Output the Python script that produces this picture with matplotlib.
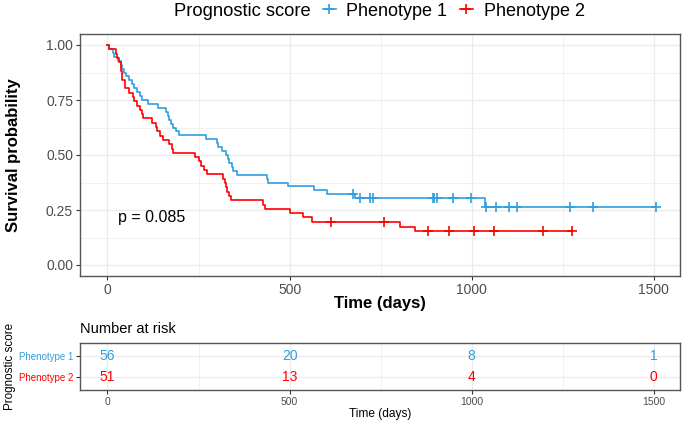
import numpy as np
import matplotlib
matplotlib.use('Agg')
import matplotlib.pyplot as plt
from matplotlib.lines import Line2D

plt.rcParams['font.family'] = ['Liberation Sans', 'DejaVu Sans']

# Kaplan-Meier steps (time in days, survival after the step)
blue_time = [0, 5, 14, 19, 30, 36, 41, 44, 52, 60, 68, 74, 80, 90, 96, 112, 140, 162,
             167, 170, 173, 181, 189, 195, 271, 302, 304, 315, 326, 332, 335, 343, 345,
             356, 437, 440, 497, 567, 604, 680, 1036]
blue_surv = [1.0, .982, .964, .946, .929, .911, .893, .875, .857, .839, .821, .804, .786,
             .768, .750, .732, .714, .696, .679, .661, .643, .625, .607, .589, .571, .554,
             .536, .518, .500, .482, .464, .446, .429, .411, .393, .375, .357, .339, .321,
             .303, .265]
blue_cens = [673, 694, 722, 730, 893, 897, 904, 950, 998, 1039, 1068, 1103, 1125, 1271,
             1333, 1505]

red_time = [0, 4, 24, 26, 31, 36, 37, 39, 40, 47, 49, 58, 70, 74, 80, 88, 96, 98, 122, 134,
            136, 145, 152, 170, 178, 180, 239, 252, 257, 266, 273, 318, 322, 326, 329, 333,
            338, 428, 432, 502, 537, 561, 803, 845]
red_surv = [1.0, .980, .961, .941, .922, .902, .882, .863, .843, .824, .804, .784, .765,
            .745, .725, .706, .686, .667, .647, .627, .608, .588, .569, .549, .529, .510,
            .490, .471, .451, .431, .412, .392, .373, .353, .333, .314, .294, .275, .255,
            .235, .216, .196, .174, .153]
red_cens = [614, 758, 880, 939, 1005, 1060, 1196, 1275]

groups = ['Phenotype 1', 'Phenotype 2']
colors = ['#2E9FDF', '#FF0000']

risk_times = [0, 500, 1000, 1500]
risk_p1 = [56, 20, 8, 1]
risk_p2 = [51, 13, 4, 0]

pval_text = 'p = 0.085'

GRID = '#EBEBEB'
BORDER = '#555555'
TICKLAB = '#4D4D4D'
XLIM = (-75.5, 1572)

W, H = 685, 425
fig = plt.figure(figsize=(W / 100, H / 100), dpi=100)

# ---- survival curves ----
ax = fig.add_axes([80 / W, 1 - 276 / H, 600 / W, 242 / H])
series = [(blue_time, blue_surv, blue_cens), (red_time, red_surv, red_cens)]
for (t, s, c), col in zip(series, colors):
    t = np.array(t, dtype=float)
    s = np.array(s)
    xs = np.append(t, max(c))
    ys = np.append(s, s[-1])
    ax.step(xs, ys, where='post', color=col, lw=1.2, zorder=3)
    idx = np.searchsorted(t, c, side='right') - 1
    ax.plot(c, s[idx], linestyle='none', marker='+', color=col, ms=7, mew=1.2, zorder=4)

ax.set_xlim(*XLIM)
ax.set_ylim(-0.05, 1.05)
ax.set_xticks([0, 500, 1000, 1500])
ax.set_xticks([250, 750, 1250], minor=True)
ax.set_yticks([0, 0.25, 0.5, 0.75, 1.0])
ax.set_yticklabels(['0.00', '0.25', '0.50', '0.75', '1.00'])
ax.set_yticks([0.125, 0.375, 0.625, 0.875], minor=True)
ax.grid(True, which='major', color=GRID, lw=0.9, zorder=0)
ax.grid(True, which='minor', color=GRID, lw=0.5, zorder=0)
ax.set_axisbelow(True)
ax.tick_params(which='major', length=3, color='#333333', labelcolor=TICKLAB,
               labelsize=10, pad=2)
ax.tick_params(which='minor', length=0)
for sp in ax.spines.values():
    sp.set_color(BORDER)
    sp.set_linewidth(1.0)
ax.set_xlabel('Time (days)', fontsize=12, fontweight='bold', labelpad=-1)
ax.set_ylabel('Survival probability', fontsize=12, fontweight='bold', labelpad=18)
ax.text(30, 0.215, pval_text, fontsize=11.5, va='center', ha='left')

# ---- legend on top ----
fig.text(311 / W, 1 - 11 / H, 'Prognostic score', fontsize=13.2, ha='right', va='center')
handles = [Line2D([], [], color=col, lw=1.2, marker='+', ms=7, mew=1.2) for col in colors]
fig.legend(handles, groups, loc='center left', bbox_to_anchor=(323 / W, 1 - 11 / H),
           ncol=2, frameon=False, fontsize=13, handlelength=0.7, handletextpad=0.6,
           columnspacing=0.7, borderpad=0, borderaxespad=0)

# ---- risk table ----
ax2 = fig.add_axes([80 / W, 1 - 390 / H, 600 / W, 47 / H])
ax2.set_xlim(*XLIM)
ax2.set_ylim(0.4, 2.6)
for i, t in enumerate(risk_times):
    ax2.text(t, 2, str(risk_p1[i]), color=colors[0], ha='center', va='center', fontsize=10)
    ax2.text(t, 1, str(risk_p2[i]), color=colors[1], ha='center', va='center', fontsize=10)
ax2.set_xticks([0, 500, 1000, 1500])
ax2.set_xticks([250, 750, 1250], minor=True)
ax2.set_yticks([1, 2])
ax2.set_yticklabels([groups[1], groups[0]])
for lab, col in zip(ax2.get_yticklabels(), [colors[1], colors[0]]):
    lab.set_color(col)
ax2.grid(True, which='major', color=GRID, lw=0.9, zorder=0)
ax2.grid(True, which='minor', axis='x', color=GRID, lw=0.5, zorder=0)
ax2.set_axisbelow(True)
ax2.tick_params(which='major', length=3, color='#333333', pad=2)
ax2.tick_params(axis='x', labelsize=7.5, labelcolor=TICKLAB)
ax2.tick_params(axis='y', labelsize=7)
ax2.tick_params(which='minor', length=0)
for sp in ax2.spines.values():
    sp.set_color(BORDER)
    sp.set_linewidth(1.0)
ax2.set_xlabel('Time (days)', fontsize=8.6, labelpad=1)
ax2.set_ylabel('Prognostic score', fontsize=8.4, labelpad=2)
ax2.set_title('Number at risk', loc='left', fontsize=10.5, pad=7)

fig.savefig('out.png', dpi=100)
